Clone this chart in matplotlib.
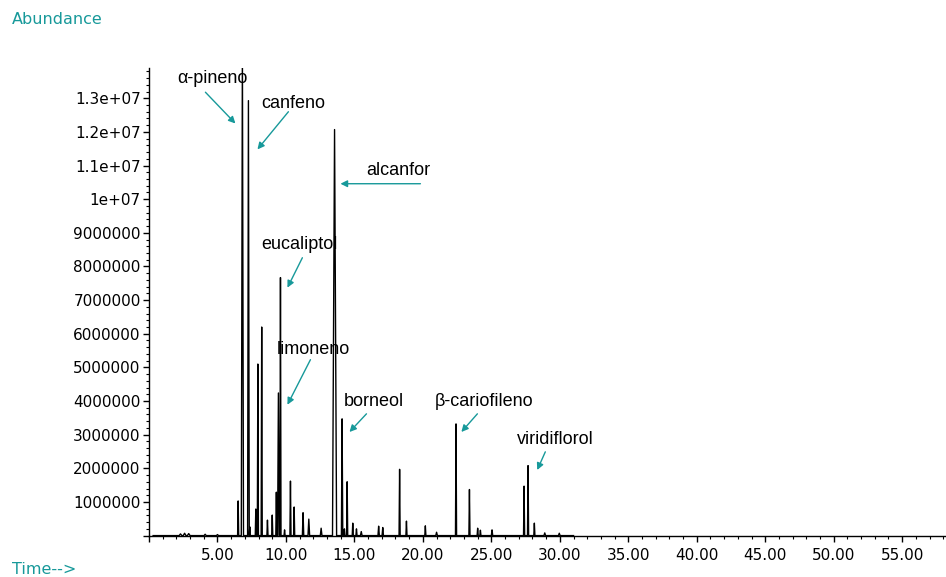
import matplotlib
matplotlib.use('Agg')
import matplotlib.pyplot as plt
from matplotlib.ticker import MultipleLocator, AutoMinorLocator, FuncFormatter

plt.rcParams['font.family'] = ['Liberation Sans', 'DejaVu Sans']

TEAL = '#17999a'

# peak list: retention time (min), abundance, half width (min)
peak_time = [2.3, 2.6, 2.9, 4.1, 5.0, 6.51, 6.82, 7.26, 7.36, 7.8, 7.95, 8.23, 8.65, 9.0,
             9.3, 9.45, 9.6, 9.9, 10.33, 10.6, 11.25, 11.67, 12.57, 13.55, 14.1, 14.27,
             14.47, 14.88, 15.15, 15.5, 16.77, 17.07, 18.3, 18.8, 20.18, 21.0, 22.42,
             23.4, 24.0, 24.2, 25.05, 27.39, 27.68, 28.14, 28.9, 29.96]
peak_height = [0.05e6, 0.07e6, 0.06e6, 0.04e6, 0.03e6, 1.03e6, 14.5e6, 12.93e6, 0.26e6,
               0.79e6, 5.1e6, 6.2e6, 0.46e6, 0.61e6, 1.29e6, 4.24e6, 7.67e6, 0.17e6,
               1.62e6, 0.85e6, 0.68e6, 0.49e6, 0.22e6, 12.07e6, 3.47e6, 0.2e6, 1.6e6,
               0.37e6, 0.2e6, 0.12e6, 0.28e6, 0.24e6, 1.97e6, 0.43e6, 0.29e6, 0.1e6,
               3.32e6, 1.37e6, 0.22e6, 0.16e6, 0.17e6, 1.47e6, 2.08e6, 0.37e6, 0.08e6,
               0.07e6]
peak_width = [0.1, 0.1, 0.1, 0.08, 0.08, 0.04, 0.08, 0.06, 0.04, 0.04, 0.04, 0.04, 0.04,
              0.04, 0.04, 0.06, 0.04, 0.04, 0.04, 0.04, 0.05, 0.06, 0.06, 0.15, 0.05,
              0.04, 0.04, 0.04, 0.04, 0.06, 0.05, 0.05, 0.04, 0.04, 0.04, 0.06, 0.04,
              0.04, 0.04, 0.04, 0.05, 0.04, 0.04, 0.04, 0.06, 0.06]

# compound labels: name, arrow tip (time, abundance), arrow tail, text centre
labels = ['\u03b1-pineno', 'canfeno', 'alcanfor', 'eucaliptol', 'limoneno',
          'borneol', '\u03b2-cariofileno', 'viridiflorol']
arrow_tip = [(6.31, 12.25e6), (7.92, 11.48e6), (13.98, 10.46e6), (10.11, 7.37e6),
             (10.11, 3.89e6), (14.64, 3.08e6), (22.81, 3.08e6), (28.35, 1.95e6)]
arrow_tail = [(4.12, 13.18e6), (10.18, 12.6e6), (19.82, 10.46e6), (11.2, 8.26e6),
              (11.79, 5.23e6), (15.88, 3.62e6), (23.98, 3.62e6), (28.94, 2.49e6)]
text_pos = [(4.64, 13.58e6), (10.55, 12.84e6), (18.21, 10.85e6), (10.99, 8.65e6),
            (12.0, 5.53e6), (16.39, 4.0e6), (24.49, 4.0e6), (29.67, 2.85e6)]

# build the trace as a polyline through the peaks
trace_t = [0.3]
trace_y = [0.0]
for t, h, w in zip(peak_time, peak_height, peak_width):
    trace_t += [t - w, t, t + w]
    trace_y += [0.0, h, 0.0]
trace_t.append(31.0)
trace_y.append(0.0)

fig = plt.figure(figsize=(9.46, 5.77), dpi=100)
ax = fig.add_axes([149 / 946, 41.4 / 577, 797 / 946, 467.6 / 577])

ax.plot(trace_t, trace_y, color='black', lw=1.0, clip_on=True)

ax.set_xlim(0, 58.2)
ax.set_ylim(0, 13.9e6)

for side in ['top', 'right']:
    ax.spines[side].set_visible(False)
ax.spines['left'].set_linewidth(1.0)
ax.spines['bottom'].set_linewidth(1.0)

ax.xaxis.set_major_locator(MultipleLocator(5))
ax.xaxis.set_minor_locator(MultipleLocator(1))
ax.xaxis.set_major_formatter(FuncFormatter(lambda v, p: '' if v == 0 else '%.2f' % v))
ax.yaxis.set_major_locator(MultipleLocator(1e6))
ax.yaxis.set_minor_locator(AutoMinorLocator(5))
ax.yaxis.set_major_formatter(FuncFormatter(
    lambda v, p: '' if v == 0 else ('%d' % v if v < 1e7 else '%g' % v)))

ax.tick_params(which='major', direction='out', length=4, width=1, pad=2)
ax.tick_params(which='minor', direction='out', length=2, width=0.8)
for lab in ax.get_xticklabels() + ax.get_yticklabels():
    lab.set_family('DejaVu Sans')
    lab.set_fontsize(11)
ax.tick_params(axis='x', pad=5)

for name, tip, tail, tp in zip(labels, arrow_tip, arrow_tail, text_pos):
    ax.annotate('', xy=tip, xytext=tail,
                arrowprops=dict(arrowstyle='-|>', color=TEAL, lw=1.0,
                                mutation_scale=10, shrinkA=0, shrinkB=0))
    ax.text(tp[0], tp[1], name, fontsize=13, ha='center', va='center', color='black')

fig.text(12 / 946, 1 - 19 / 577, 'Abundance', color=TEAL, fontsize=11.5,
         family='DejaVu Sans', ha='left', va='center')
fig.text(12 / 946, 1 - 569 / 577, 'Time-->', color=TEAL, fontsize=11.5,
         family='DejaVu Sans', ha='left', va='center')

fig.savefig('out.png', dpi=100)
